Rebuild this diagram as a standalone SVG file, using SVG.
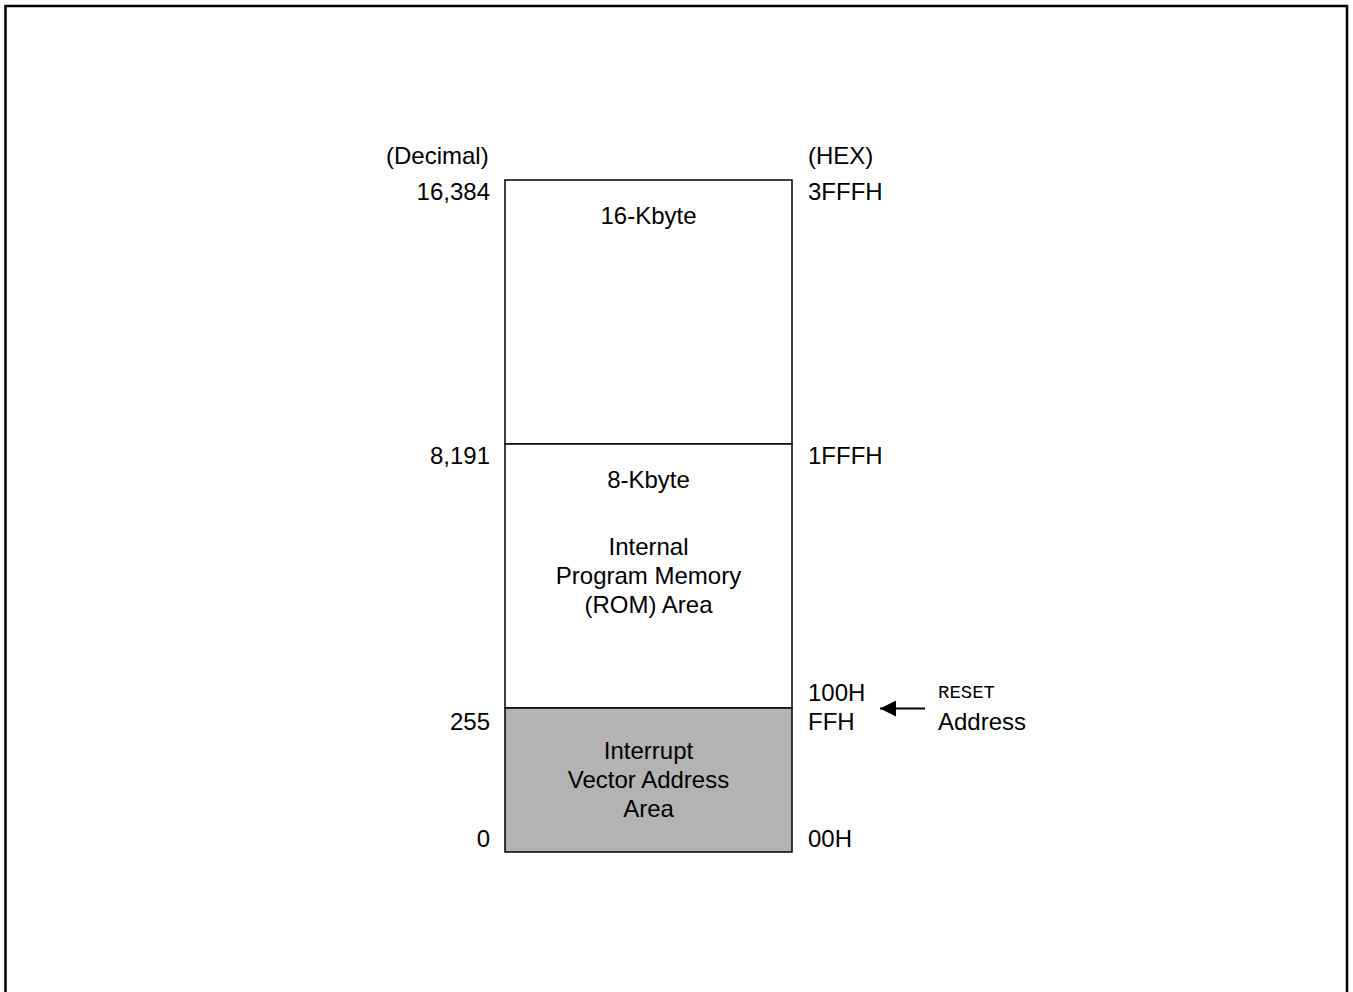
<svg xmlns="http://www.w3.org/2000/svg" width="1353" height="992" viewBox="0 0 1353 992">
<style>
text{font-family:"Liberation Sans",Arial,sans-serif;font-size:24px;fill:#000}
.c{text-anchor:middle}
.r{text-anchor:end}
.m{font-family:"Liberation Mono","Courier New",monospace;font-size:19px}
.box{stroke:#000;stroke-width:1.5}
</style>
<defs>
<marker id="ah" markerWidth="16" markerHeight="16" refX="16" refY="8" orient="auto" markerUnits="userSpaceOnUse" viewBox="0 0 16 16">
<path d="M0,0 L16,8 L0,16 z" fill="#000"/>
</marker>
</defs>
<rect x="5.5" y="6" width="1341.5" height="1000" fill="none" stroke="#000" stroke-width="2.5"/>
<g id="rom16">
<rect class="box" x="505" y="180" width="287" height="264" fill="#fff"/>
<text class="c" x="648.5" y="224">16-Kbyte</text>
</g>
<g id="rom8">
<rect class="box" x="505" y="444" width="287" height="264" fill="#fff"/>
<text class="c" x="648.5" y="488">8-Kbyte</text>
<text class="c" x="648.5" y="555">Internal</text>
<text class="c" x="648.5" y="584">Program Memory</text>
<text class="c" x="648.5" y="613">(ROM) Area</text>
</g>
<g id="ivt">
<rect class="box" x="505" y="708" width="287" height="144" fill="#b3b3b3"/>
<text class="c" x="648.5" y="759">Interrupt</text>
<text class="c" x="648.5" y="788">Vector Address</text>
<text class="c" x="648.5" y="817">Area</text>
</g>
<g id="labels">
<text x="386" y="164">(Decimal)</text>
<text x="808" y="164">(HEX)</text>
<text class="r" x="490" y="200">16,384</text>
<text x="808" y="200">3FFFH</text>
<text class="r" x="490" y="464">8,191</text>
<text x="808" y="464">1FFFH</text>
<text class="r" x="490" y="730">255</text>
<text x="808" y="701">100H</text>
<text x="808" y="730">FFH</text>
<text class="r" x="490" y="847">0</text>
<text x="808" y="847">00H</text>
<text class="m" x="938" y="698">RESET</text>
<text x="938" y="730">Address</text>
</g>
<g id="connectors">
<line x1="925" y1="708.5" x2="880" y2="708.5" stroke="#000" stroke-width="1.8" marker-end="url(#ah)"/>
</g>
</svg>
